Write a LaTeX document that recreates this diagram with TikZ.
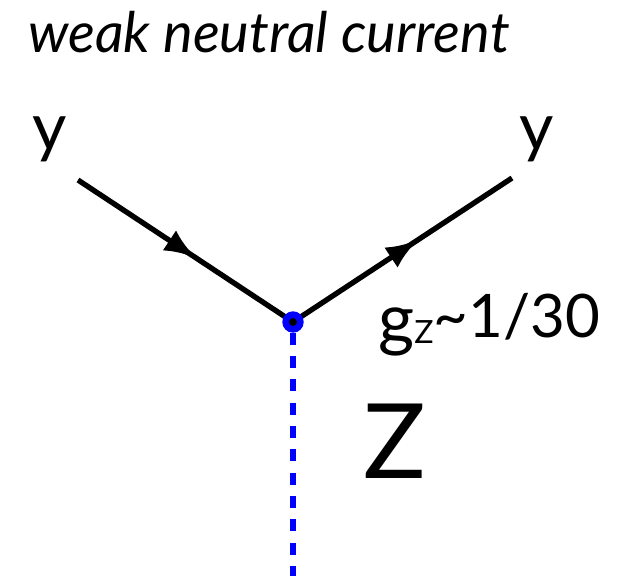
\documentclass[tikz,border=0pt]{standalone}
\usepackage{fontspec}
\setmainfont{Lato}
\usetikzlibrary{arrows.meta,decorations.markings}
\tikzset{
  fermion/.style={line width=4pt,postaction={decorate},
    decoration={markings,mark=at position #1 with {\arrow{Latex[length=24pt,width=18pt]}}}},
  boson/.style={blue,line width=5pt,dash pattern=on 9pt off 8.5pt},
  vertexdot/.style={circle,draw=blue,fill=black,line width=5pt,inner sep=0pt,minimum size=11pt},
  lbl/.style={inner sep=0pt,anchor=base west}
}
\begin{document}
\begin{tikzpicture}[x=0.75pt,y=-0.75pt]
  \useasboundingbox (0,0) rectangle (635,575);
  % labels
  \node[lbl,font=\fontsize{42}{48}\selectfont\itshape] (title) at (28,52) {weak neutral current};
  \node[lbl,font=\fontsize{50}{58}\selectfont] (yin) at (32,150) {y};
  \node[lbl,font=\fontsize{50}{58}\selectfont] (yout) at (519,150) {y};
  \node[lbl,font=\fontsize{45}{50}\selectfont] (coup) at (378,337)
    {\raisebox{-4.5pt}{{\fontsize{52}{56}\selectfont g}{\fontsize{24}{26}\selectfont Z}}\textasciitilde 1/30};
  \node[lbl,font=\fontsize{78}{90}\selectfont] (zlbl) at (363,478) {Z};
  % lines
  \coordinate (fin) at (78,180);
  \coordinate (fout) at (512,178);
  \coordinate (vtx) at (293,322);
  \coordinate (zend) at (293,578);
  \draw[fermion=0.55] (fin) -- (vtx);
  \draw[fermion=0.57] (vtx) -- (fout);
  \node[vertexdot] (v) at (vtx) {};
  \draw[boson] (v) -- (zend);
\end{tikzpicture}
\end{document}
